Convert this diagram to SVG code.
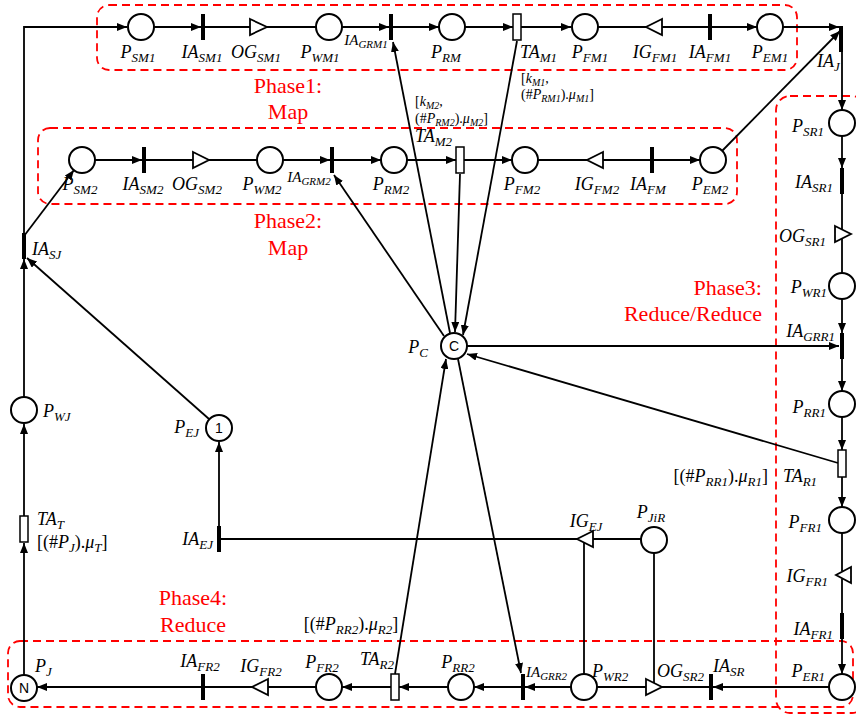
<svg xmlns="http://www.w3.org/2000/svg" width="856" height="718" viewBox="0 0 856 718">
<style>
.pl{fill:#fff;stroke:#000;stroke-width:2}
.bar{fill:#000}
.ta{fill:#fff;stroke:#000;stroke-width:1.5}
.tri{fill:#fff;stroke:#000;stroke-width:1.8}
.c{fill:none;stroke:#000;stroke-width:1.8}
.ca{fill:none;stroke:#000;stroke-width:1.8;marker-end:url(#a)}
.ph{fill:none;stroke:#f00;stroke-width:1.8;stroke-dasharray:8,5}
.m{font-family:"Liberation Serif",serif;font-style:italic;font-size:18px;fill:#000}
.sm{font-family:"Liberation Serif",serif;font-style:italic;font-size:15px;fill:#000}
.k{font-family:"Liberation Serif",serif;font-style:italic;font-size:14px;fill:#000}
.s{font-size:13px}
.sm .s{font-size:11px}
.k .s{font-size:10px}
.u{font-style:normal}
.red{font-family:"Liberation Serif",serif;font-size:22px;fill:#f00;text-anchor:middle}
.tok{font-family:"Liberation Sans",sans-serif;font-size:14px;fill:#000;text-anchor:middle}
</style>
<defs>
<marker id="a" viewBox="0 0 10 8" refX="10" refY="4" markerWidth="10" markerHeight="8" orient="auto" markerUnits="userSpaceOnUse"><path d="M0,0 L10,4 L0,8 z" fill="#000"/></marker>
</defs>
<rect width="856" height="718" fill="#fff"/>

<g id="phases">
<rect class="ph" x="97" y="5" width="700" height="65" rx="12"/>
<rect class="ph" x="38" y="128" width="699" height="76" rx="12"/>
<rect class="ph" x="776" y="96" width="90" height="617" rx="14"/>
<rect class="ph" x="8" y="641" width="845" height="66" rx="12"/>
<text class="red" x="288" y="93">Phase1:</text>
<text class="red" x="288" y="119">Map</text>
<text class="red" x="288" y="228">Phase2:</text>
<text class="red" x="288" y="255">Map</text>
<text class="red" x="762" y="295" style="text-anchor:end">Phase3:</text>
<text class="red" x="762" y="321" style="text-anchor:end">Reduce/Reduce</text>
<text class="red" x="193" y="605">Phase4:</text>
<text class="red" x="193" y="632">Reduce</text>
</g>

<g id="connectors">
<!-- top row -->
<path class="ca" d="M24,233 V27 H127"/>
<path class="ca" d="M154,27 H201"/>
<path class="c" d="M205,27 H250 M267,27 H316"/>
<path class="ca" d="M342,27 H389"/>
<path class="ca" d="M393,27 H439"/>
<path class="ca" d="M465,27 H513"/>
<path class="ca" d="M521,27 H571"/>
<path class="c" d="M598,27 H646 M662,27 H712"/>
<path class="ca" d="M712,27 H757"/>
<path class="ca" d="M783,27 H839"/>
<!-- row 2 -->
<path class="ca" d="M95,160 H142"/>
<path class="c" d="M146,160 H193 M209,160 H257"/>
<path class="ca" d="M283,160 H330"/>
<path class="ca" d="M334,160 H381"/>
<path class="ca" d="M407,160 H456"/>
<path class="ca" d="M464,160 H512"/>
<path class="c" d="M538,160 H587 M603,160 H654"/>
<path class="ca" d="M654,160 H700"/>
<path class="ca" d="M722,151 L840,31"/>
<!-- right column -->
<path class="ca" d="M842,52 V110"/>
<path class="ca" d="M842,136 V168"/>
<path class="c" d="M842,194 V230 M842,238 V273"/>
<path class="ca" d="M842,299 V333"/>
<path class="ca" d="M842,359 V391"/>
<path class="ca" d="M842,417 V450"/>
<path class="ca" d="M842,477 V507"/>
<path class="c" d="M842,533 V571 M842,579 V615"/>
<path class="ca" d="M842,638 V674"/>
<!-- bottom row -->
<path class="ca" d="M829,687 H713"/>
<path class="c" d="M711,687 H662 M646,687 H597"/>
<path class="ca" d="M571,687 H525"/>
<path class="ca" d="M521,687 H474"/>
<path class="ca" d="M448,687 H399"/>
<path class="ca" d="M391,687 H342"/>
<path class="c" d="M316,687 H268 M252,687 H203"/>
<path class="ca" d="M203,687 H37"/>
<!-- left side -->
<path class="ca" d="M24,675 V543"/>
<path class="ca" d="M24,516 V424"/>
<path class="ca" d="M24,397 V259"/>
<path class="ca" d="M24,236 L74,170"/>
<path class="ca" d="M209,419 L27,258"/>
<path class="ca" d="M219,526 V442"/>
<path class="c" d="M221,539 H577"/>
<path class="c" d="M593,539 H641"/>
<path class="c" d="M584,674 V543"/>
<path class="c" d="M654,553 V683"/>
<!-- P_C connections -->
<path class="ca" d="M450,333 L393,42"/>
<path class="ca" d="M517,41 L463,335"/>
<path class="ca" d="M460,174 L455,332"/>
<path class="ca" d="M444,336 L334,175"/>
<path class="ca" d="M467,346 H839"/>
<path class="ca" d="M838,463 L467,354"/>
<path class="ca" d="M395,674 L446,359"/>
<path class="ca" d="M458,359 L521,673"/>
</g>

<!-- top row nodes -->
<g id="P_SM1"><circle class="pl" cx="141" cy="27" r="13"/><text class="m" x="138" y="58" text-anchor="middle">P<tspan class="s" dy="4">SM1</tspan></text></g>
<g id="IA_SM1"><rect class="bar" x="201" y="14" width="4" height="26"/><text class="m" x="202" y="58" text-anchor="middle">IA<tspan class="s" dy="4">SM1</tspan></text></g>
<g id="OG_SM1"><polygon class="tri" points="250,19 267,27 250,35"/><text class="m" x="256" y="58" text-anchor="middle">OG<tspan class="s" dy="4">SM1</tspan></text></g>
<g id="P_WM1"><circle class="pl" cx="329" cy="27" r="13"/><text class="m" x="320" y="58" text-anchor="middle">P<tspan class="s" dy="4">WM1</tspan></text></g>
<g id="IA_GRM1"><rect class="bar" x="389" y="14" width="4" height="26"/><text class="sm" x="366" y="45" text-anchor="middle">IA<tspan class="s" dy="3">GRM1</tspan></text></g>
<g id="P_RM"><circle class="pl" cx="452" cy="27" r="13"/><text class="m" x="446" y="58" text-anchor="middle">P<tspan class="s" dy="4">RM</tspan></text></g>
<g id="TA_M1"><rect class="ta" x="513" y="14" width="8" height="26"/><text class="m" x="520" y="58">TA<tspan class="s" dy="4">M1</tspan></text>
<text class="k" x="521" y="83"><tspan class="u">[</tspan>k<tspan class="s" dy="3">M1</tspan><tspan class="u" dy="-3">,</tspan></text>
<text class="k" x="521" y="99"><tspan class="u">(#</tspan>P<tspan class="s" dy="3">RM1</tspan><tspan class="u" dy="-3">).</tspan>μ<tspan class="s" dy="3">M1</tspan><tspan class="u" dy="-3">]</tspan></text></g>
<g id="P_FM1"><circle class="pl" cx="585" cy="27" r="13"/><text class="m" x="590" y="58" text-anchor="middle">P<tspan class="s" dy="4">FM1</tspan></text></g>
<g id="IG_FM1"><polygon class="tri" points="662,19 646,27 662,35"/><text class="m" x="655" y="58" text-anchor="middle">IG<tspan class="s" dy="4">FM1</tspan></text></g>
<g id="IA_FM1"><rect class="bar" x="708" y="14" width="4" height="26"/><text class="m" x="710" y="58" text-anchor="middle">IA<tspan class="s" dy="4">FM1</tspan></text></g>
<g id="P_EM1"><circle class="pl" cx="770" cy="27" r="13"/><text class="m" x="770" y="58" text-anchor="middle">P<tspan class="s" dy="4">EM1</tspan></text></g>
<g id="IA_J"><rect class="bar" x="839" y="26" width="4" height="26"/><text class="m" x="817" y="67">IA<tspan class="s" dy="4">J</tspan></text></g>

<!-- row 2 nodes -->
<g id="P_SM2"><circle class="pl" cx="82" cy="160" r="13"/><text class="m" x="80" y="190" text-anchor="middle">P<tspan class="s" dy="4">SM2</tspan></text></g>
<g id="IA_SM2"><rect class="bar" x="142" y="147" width="4" height="26"/><text class="m" x="143" y="190" text-anchor="middle">IA<tspan class="s" dy="4">SM2</tspan></text></g>
<g id="OG_SM2"><polygon class="tri" points="193,152 209,160 193,168"/><text class="m" x="197" y="190" text-anchor="middle">OG<tspan class="s" dy="4">SM2</tspan></text></g>
<g id="P_WM2"><circle class="pl" cx="270" cy="160" r="13"/><text class="m" x="262" y="190" text-anchor="middle">P<tspan class="s" dy="4">WM2</tspan></text></g>
<g id="IA_GRM2"><rect class="bar" x="330" y="147" width="4" height="26"/><text class="sm" x="309" y="182" text-anchor="middle">IA<tspan class="s" dy="3">GRM2</tspan></text></g>
<g id="P_RM2"><circle class="pl" cx="394" cy="160" r="13"/><text class="m" x="391" y="190" text-anchor="middle">P<tspan class="s" dy="4">RM2</tspan></text></g>
<g id="TA_M2"><rect class="ta" x="456" y="147" width="8" height="26"/><text class="m" x="415" y="142">TA<tspan class="s" dy="4">M2</tspan></text>
<text class="k" x="415" y="106"><tspan class="u">[</tspan>k<tspan class="s" dy="3">M2</tspan><tspan class="u" dy="-3">,</tspan></text>
<text class="k" x="415" y="123"><tspan class="u">(#</tspan>P<tspan class="s" dy="3">RM2</tspan><tspan class="u" dy="-3">).</tspan>μ<tspan class="s" dy="3">M2</tspan><tspan class="u" dy="-3">]</tspan></text></g>
<g id="P_FM2"><circle class="pl" cx="525" cy="160" r="13"/><text class="m" x="522" y="190" text-anchor="middle">P<tspan class="s" dy="4">FM2</tspan></text></g>
<g id="IG_FM2"><polygon class="tri" points="603,152 587,160 603,168"/><text class="m" x="597" y="190" text-anchor="middle">IG<tspan class="s" dy="4">FM2</tspan></text></g>
<g id="IA_FM"><rect class="bar" x="650" y="147" width="4" height="26"/><text class="m" x="648" y="190" text-anchor="middle">IA<tspan class="s" dy="4">FM</tspan></text></g>
<g id="P_EM2"><circle class="pl" cx="713" cy="160" r="13"/><text class="m" x="710" y="190" text-anchor="middle">P<tspan class="s" dy="4">EM2</tspan></text></g>

<!-- right column nodes -->
<g id="P_SR1"><circle class="pl" cx="842" cy="123" r="13"/><text class="m" x="824" y="132" text-anchor="end">P<tspan class="s" dy="4">SR1</tspan></text></g>
<g id="IA_SR1"><rect class="bar" x="840" y="168" width="4" height="26"/><text class="m" x="833" y="188" text-anchor="end">IA<tspan class="s" dy="4">SR1</tspan></text></g>
<g id="OG_SR1"><polygon class="tri" points="835,226 851,234 835,242"/><text class="m" x="826" y="242" text-anchor="end">OG<tspan class="s" dy="4">SR1</tspan></text></g>
<g id="P_WR1"><circle class="pl" cx="842" cy="286" r="13"/><text class="m" x="827" y="293" text-anchor="end">P<tspan class="s" dy="4">WR1</tspan></text></g>
<g id="IA_GRR1"><rect class="bar" x="840" y="333" width="4" height="26"/><text class="m" x="835" y="337" text-anchor="end">IA<tspan class="s" dy="4">GRR1</tspan></text></g>
<g id="P_RR1"><circle class="pl" cx="842" cy="404" r="13"/><text class="m" x="826" y="413" text-anchor="end">P<tspan class="s" dy="4">RR1</tspan></text></g>
<g id="TA_R1"><rect class="ta" x="838" y="450" width="8" height="27"/><text class="m" x="783" y="482">TA<tspan class="s" dy="4">R1</tspan></text>
<text class="m" x="768" y="482" text-anchor="end"><tspan class="u">[(#</tspan>P<tspan class="s" dy="4">RR1</tspan><tspan class="u" dy="-4">).</tspan>μ<tspan class="s" dy="4">R1</tspan><tspan class="u" dy="-4">]</tspan></text></g>
<g id="P_FR1"><circle class="pl" cx="842" cy="520" r="13"/><text class="m" x="822" y="528" text-anchor="end">P<tspan class="s" dy="4">FR1</tspan></text></g>
<g id="IG_FR1"><polygon class="tri" points="851,567 836,575 851,583"/><text class="m" x="828" y="582" text-anchor="end">IG<tspan class="s" dy="4">FR1</tspan></text></g>
<g id="IA_FR1"><rect class="bar" x="840" y="613" width="4" height="26"/><text class="m" x="833" y="635" text-anchor="end">IA<tspan class="s" dy="4">FR1</tspan></text></g>
<g id="P_ER1"><circle class="pl" cx="842" cy="687" r="13"/><text class="m" x="825" y="677" text-anchor="end">P<tspan class="s" dy="4">ER1</tspan></text></g>

<!-- left and middle nodes -->
<g id="IA_SJ"><rect class="bar" x="22" y="233" width="4" height="26"/><text class="m" x="32" y="255">IA<tspan class="s" dy="4">SJ</tspan></text></g>
<g id="P_WJ"><circle class="pl" cx="24" cy="410" r="13"/><text class="m" x="43" y="417">P<tspan class="s" dy="4">WJ</tspan></text></g>
<g id="P_EJ"><circle class="pl" cx="219" cy="428" r="13"/><text class="tok" x="219" y="433">1</text><text class="m" x="199" y="433" text-anchor="end">P<tspan class="s" dy="4">EJ</tspan></text></g>
<g id="TA_T"><rect class="ta" x="20" y="516" width="8" height="26"/><text class="m" x="37" y="525">TA<tspan class="s" dy="4">T</tspan></text>
<text class="m" x="37" y="548"><tspan class="u">[(#</tspan>P<tspan class="s" dy="4">J</tspan><tspan class="u" dy="-4">).</tspan>μ<tspan class="s" dy="4">T</tspan><tspan class="u" dy="-4">]</tspan></text></g>
<g id="IA_EJ"><rect class="bar" x="217" y="526" width="4" height="26"/><text class="m" x="213" y="545" text-anchor="end">IA<tspan class="s" dy="4">EJ</tspan></text></g>
<g id="IG_EJ"><polygon class="tri" points="593,531 577,539 593,547"/><text class="m" x="586" y="527" text-anchor="middle">IG<tspan class="s" dy="4">EJ</tspan></text></g>
<g id="P_JiR"><circle class="pl" cx="654" cy="540" r="13"/><text class="m" x="651" y="518" text-anchor="middle">P<tspan class="s" dy="4">JiR</tspan></text></g>
<g id="P_C"><circle class="pl" cx="454" cy="346" r="13"/><text class="tok" x="454" y="351">C</text><text class="m" x="428" y="353" text-anchor="end">P<tspan class="s" dy="4">C</tspan></text></g>

<!-- bottom row nodes -->
<g id="P_J"><circle class="pl" cx="24" cy="688" r="13"/><text class="tok" x="24" y="693">N</text><text class="m" x="35" y="672">P<tspan class="s" dy="4">J</tspan></text></g>
<g id="IA_FR2"><rect class="bar" x="201" y="674" width="4" height="26"/><text class="m" x="200" y="667" text-anchor="middle">IA<tspan class="s" dy="4">FR2</tspan></text></g>
<g id="IG_FR2"><polygon class="tri" points="268,679 252,687 268,695"/><text class="m" x="261" y="672" text-anchor="middle">IG<tspan class="s" dy="4">FR2</tspan></text></g>
<g id="P_FR2"><circle class="pl" cx="329" cy="687" r="13"/><text class="m" x="322" y="668" text-anchor="middle">P<tspan class="s" dy="4">FR2</tspan></text></g>
<g id="TA_R2"><rect class="ta" x="391" y="674" width="8" height="26"/><text class="m" x="377" y="665" text-anchor="middle">TA<tspan class="s" dy="4">R2</tspan></text>
<text class="m" x="351" y="630" text-anchor="middle"><tspan class="u">[(#</tspan>P<tspan class="s" dy="4">RR2</tspan><tspan class="u" dy="-4">).</tspan>μ<tspan class="s" dy="4">R2</tspan><tspan class="u" dy="-4">]</tspan></text></g>
<g id="P_RR2"><circle class="pl" cx="461" cy="687" r="13"/><text class="m" x="458" y="668" text-anchor="middle">P<tspan class="s" dy="4">RR2</tspan></text></g>
<g id="IA_GRR2"><rect class="bar" x="521" y="674" width="4" height="26"/><text class="sm" x="526" y="677">IA<tspan class="s" dy="3">GRR2</tspan></text></g>
<g id="P_WR2"><circle class="pl" cx="584" cy="687" r="13"/><text class="m" x="592" y="677">P<tspan class="s" dy="4">WR2</tspan></text></g>
<g id="OG_SR2"><polygon class="tri" points="646,679 662,687 646,695"/><text class="m" x="657" y="677">OG<tspan class="s" dy="4">SR2</tspan></text></g>
<g id="IA_SR"><rect class="bar" x="709" y="674" width="4" height="26"/><text class="m" x="713" y="672">IA<tspan class="s" dy="4">SR</tspan></text></g>
</svg>
